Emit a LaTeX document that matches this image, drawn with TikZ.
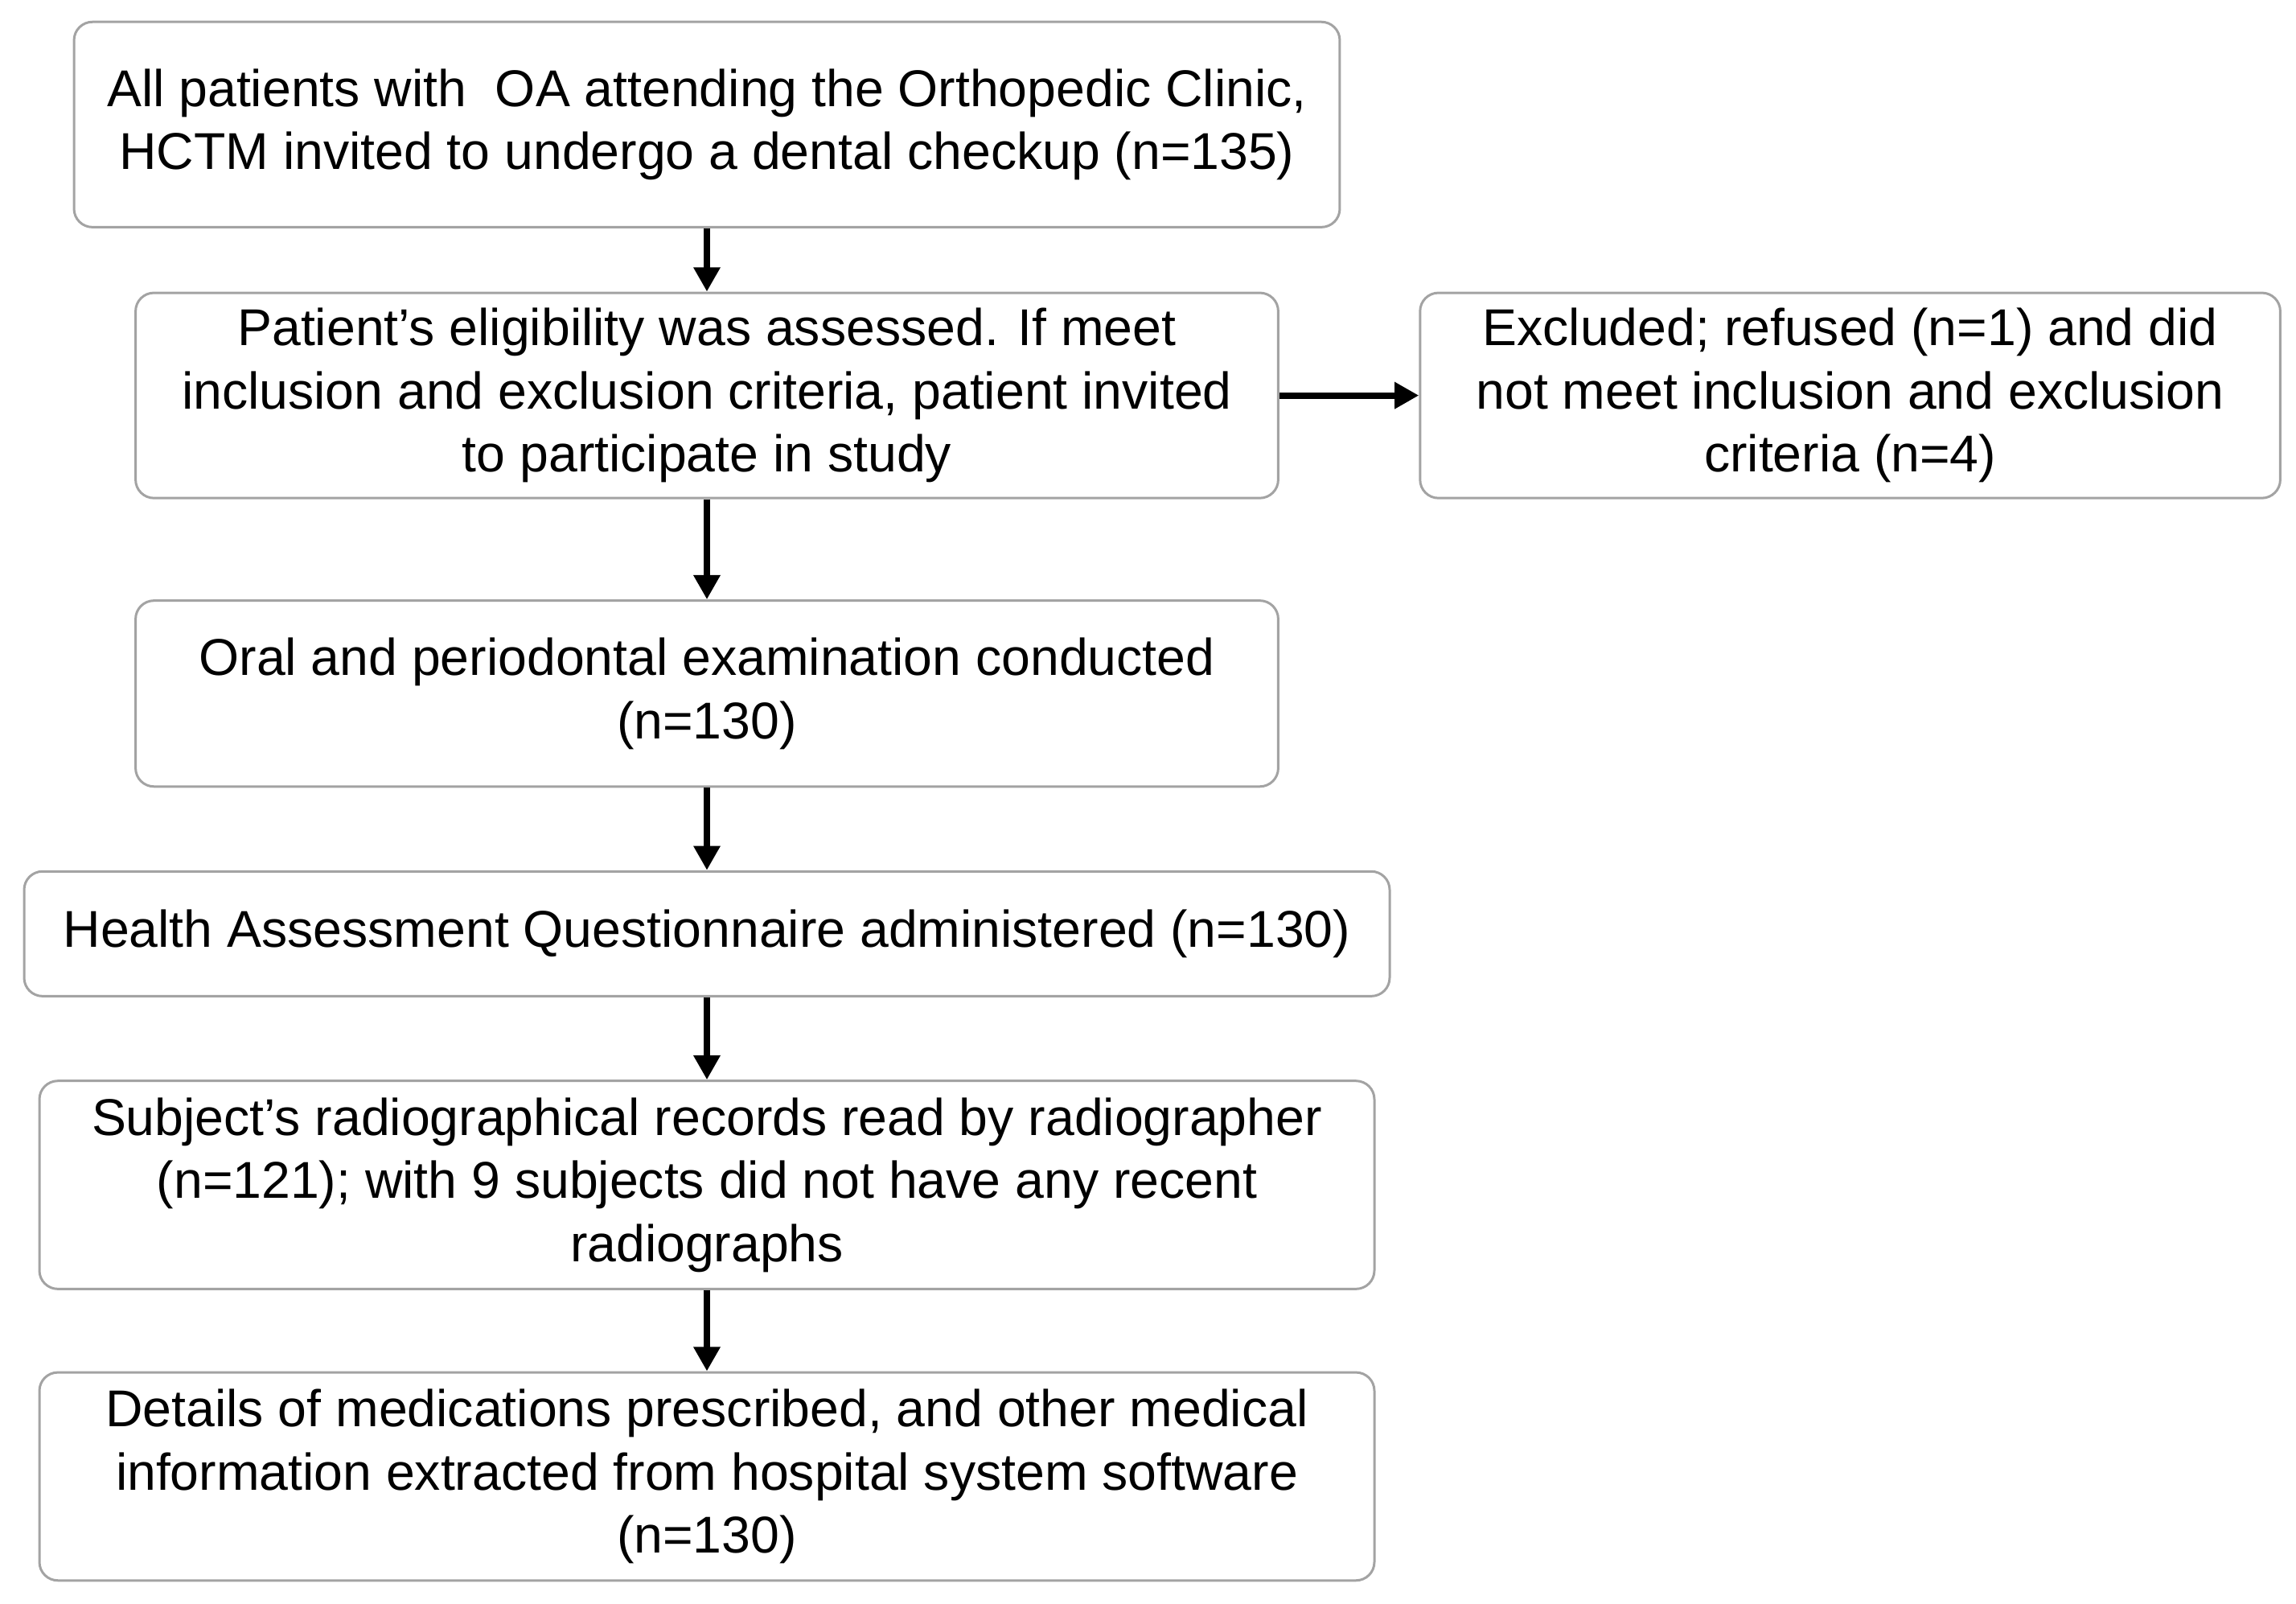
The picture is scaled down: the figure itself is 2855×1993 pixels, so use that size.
\documentclass[tikz,border=0pt]{standalone}
\usepackage{fontspec}
\setmainfont{Liberation Sans}
\usetikzlibrary{arrows.meta}
\begin{document}
\begin{tikzpicture}[x=0.01cm,y=-0.01cm,
  box/.style={draw=black!36,line width=0.85pt,rounded corners=6.5pt,fill=white,
    align=center,inner sep=0pt,font=\fontsize{18.3}{22.3}\selectfont},
  arr/.style={line width=2.3pt,-{Triangle[length=8.6pt,width=9pt]}}]
\useasboundingbox (0,0) rectangle (2855,1993);
\node[box,minimum width=15.73cm,minimum height=2.55cm] (b1) at (879,154.8)
  {All patients with\ \ OA attending the Orthopedic Clinic,\\HCTM invited to undergo a dental checkup (n=135)};
\node[box,minimum width=14.20cm,minimum height=2.55cm] (b2) at (879,491.6)
  {Patient’s eligibility was assessed. If meet\\inclusion and exclusion criteria, patient invited\\to participate in study};
\node[box,minimum width=10.69cm,minimum height=2.55cm] (ex) at (2300.6,491.6)
  {Excluded; refused (n=1) and did\\not meet inclusion and exclusion\\criteria (n=4)};
\node[box,minimum width=14.20cm,minimum height=2.31cm] (b3) at (879,862.2)
  {Oral and periodontal examination conducted\\(n=130)};
\node[box,minimum width=16.97cm,minimum height=1.55cm] (b4) at (879,1160.8)
  {Health Assessment Questionnaire administered (n=130)};
\node[box,minimum width=16.59cm,minimum height=2.585cm] (b5) at (879,1473)
  {Subject’s radiographical records read by radiographer\\(n=121); with 9 subjects did not have any recent\\radiographs};
\node[box,minimum width=16.59cm,minimum height=2.585cm] (b6) at (879,1835.4)
  {Details of medications prescribed, and other medical\\information extracted from hospital system software\\(n=130)};
\draw[arr] (b1) -- (b2);
\draw[arr] (b2) -- (b3);
\draw[arr] (b3) -- (b4);
\draw[arr] (b4) -- (b5);
\draw[arr] (b5) -- (b6);
\draw[arr] (b2) -- (ex);
\end{tikzpicture}
\end{document}
